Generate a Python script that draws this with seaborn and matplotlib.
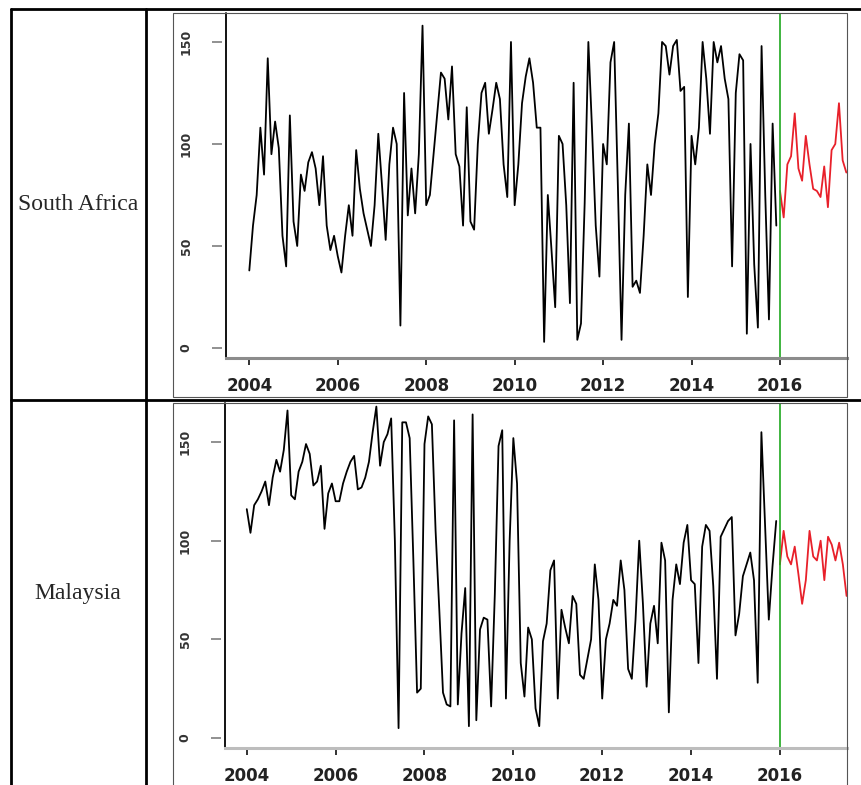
import matplotlib
matplotlib.use("Agg")
import matplotlib.pyplot as plt
from matplotlib.lines import Line2D
from matplotlib.patches import Rectangle
import pandas as pd
import seaborn as sns

# ---- data (monthly values) ----
# South Africa, black = observed Jan 2004 - Dec 2015, red = forecast from Jan 2016
sa_2004 = [38, 60, 75, 108, 85, 142, 95, 111, 98, 55, 40, 114]
sa_2005 = [62, 50, 85, 77, 91, 96, 88, 70, 94, 60, 48, 55]
sa_2006 = [45, 37, 55, 70, 55, 97, 78, 66, 58, 50, 70, 105]
sa_2007 = [80, 53, 90, 108, 100, 11, 125, 65, 88, 66, 95, 158]
sa_2008 = [70, 75, 95, 115, 135, 132, 112, 138, 95, 89, 60, 118]
sa_2009 = [62, 58, 100, 125, 130, 105, 117, 130, 122, 90, 74, 150]
sa_2010 = [70, 90, 120, 133, 142, 130, 108, 108, 3, 75, 48, 20]
sa_2011 = [104, 100, 70, 22, 130, 4, 12, 71, 150, 107, 60, 35]
sa_2012 = [100, 90, 140, 150, 80, 4, 75, 110, 30, 33, 27, 55]
sa_2013 = [90, 75, 100, 115, 150, 148, 134, 148, 151, 126, 128, 25]
sa_2014 = [104, 90, 108, 150, 132, 105, 150, 140, 148, 132, 122, 40]
sa_2015 = [125, 144, 141, 7, 100, 41, 10, 148, 75, 14, 110, 60]
sa_forecast = [77, 64, 90, 94, 115, 88, 82, 104, 90, 78, 77, 74, 89, 69, 97, 100, 120, 92, 86]

# Malaysia
my_2004 = [116, 104, 118, 121, 125, 130, 118, 132, 141, 135, 146, 166]
my_2005 = [123, 121, 135, 140, 149, 144, 128, 130, 138, 106, 124, 129]
my_2006 = [120, 120, 129, 135, 140, 143, 126, 127, 132, 140, 155, 168]
my_2007 = [138, 150, 154, 162, 100, 5, 160, 160, 152, 90, 23, 25]
my_2008 = [149, 163, 159, 105, 65, 23, 17, 16, 161, 17, 53, 76]
my_2009 = [6, 164, 9, 55, 61, 60, 16, 73, 148, 156, 20, 100]
my_2010 = [152, 129, 38, 21, 56, 50, 15, 6, 49, 58, 85, 90]
my_2011 = [20, 65, 56, 48, 72, 68, 32, 30, 40, 50, 88, 70]
my_2012 = [20, 50, 58, 70, 67, 90, 75, 35, 30, 60, 100, 68]
my_2013 = [26, 58, 67, 48, 99, 90, 13, 70, 88, 78, 99, 108]
my_2014 = [80, 78, 38, 97, 108, 105, 77, 30, 102, 106, 110, 112]
my_2015 = [52, 63, 82, 88, 94, 80, 28, 155, 107, 60, 87, 110]
my_forecast = [88, 105, 92, 88, 97, 83, 68, 80, 105, 92, 90, 100, 80, 102, 98, 90, 99, 88, 72]

countries = ["South Africa", "Malaysia"]
year_ticks = [2004, 2006, 2008, 2010, 2012, 2014, 2016]
value_ticks = [0, 50, 100, 150]
split_year = 2016

sa_obs = sa_2004 + sa_2005 + sa_2006 + sa_2007 + sa_2008 + sa_2009 + \
    sa_2010 + sa_2011 + sa_2012 + sa_2013 + sa_2014 + sa_2015
my_obs = my_2004 + my_2005 + my_2006 + my_2007 + my_2008 + my_2009 + \
    my_2010 + my_2011 + my_2012 + my_2013 + my_2014 + my_2015


def to_frame(values, start):
    dates = pd.date_range(start, periods=len(values), freq="MS")
    return pd.DataFrame({"t": dates.year + (dates.month - 1) / 12, "value": values})


W, H = 861, 785


def fx(x):
    return x / W


def fy(y):
    return 1 - y / H


sns.set_style("white")
plt.rcParams["font.family"] = ["DejaVu Sans"]

fig = plt.figure(figsize=(W / 100, H / 100), dpi=100)

# panel geometry in pixels: (left, top, right, bottom), xlim, ylim, bottom spine colour
panels = [
    (countries[0], sa_obs, sa_forecast, (226, 13, 847, 358), (2003.473, 2017.515), (-4.9, 164.2), "#8c8c8c", 204),
    (countries[1], my_obs, my_forecast, (225, 403, 847, 748), (2003.51, 2017.51), (-5.07, 169.8), "#bdbdbd", 594),
]

for name, obs, fc, (l, t, r, b), xlim, ylim, bcol, label_y in panels:
    ax = fig.add_axes([fx(l), fy(b), (r - l) / W, (b - t) / H])
    sns.lineplot(data=to_frame(obs, "2004-01-01"), x="t", y="value", ax=ax,
                 color="black", lw=1.3)
    sns.lineplot(data=to_frame(fc, "2016-01-01"), x="t", y="value", ax=ax,
                 color="#e8202a", lw=1.3)
    ax.axvline(split_year, color="#1fa81f", lw=1.2)

    ax.set_xlim(xlim)
    ax.set_ylim(ylim)
    ax.set_xlabel("")
    ax.set_ylabel("")

    ax.spines["top"].set_visible(False)
    ax.spines["right"].set_visible(False)
    ax.spines["left"].set_position(("outward", 3))
    ax.spines["left"].set_visible(False)
    ax.spines["bottom"].set_color(bcol)
    ax.spines["bottom"].set_linewidth(2.2)
    # plot box edge on the left
    ax.plot([0, 0], [0, 1], transform=ax.transAxes, color="black", lw=1.3, clip_on=False)

    ax.set_xticks(year_ticks)
    ax.set_xticklabels([str(y) for y in year_ticks], fontsize=12, fontweight="bold", color="#222222")
    ax.set_yticks(value_ticks)
    ax.set_yticklabels([str(v) for v in value_ticks], rotation=90, va="center",
                       fontsize=9, fontweight="bold", color="#333333")
    ax.tick_params(axis="x", direction="out", length=5, width=1.3, color="#222222", pad=9,
                   bottom=True)
    ax.tick_params(axis="y", direction="out", length=7, width=1.3, color="#888888", pad=14,
                   left=True)

    # image border around the plot
    fig.add_artist(Rectangle((fx(173), fy(b + 40 if t > 300 else 397)), (847 - 173) / W,
                             ((b + 40 if t > 300 else 397) - t) / H, transform=fig.transFigure,
                             fill=False, edgecolor="#555555", lw=0.8))

    fig.text(fx(78), fy(label_y), name, family="Liberation Serif", fontsize=17,
             ha="center", va="center")

# table rules
table_lines = [
    ((11, 861), (9, 9)),
    ((11, 11), (9, 785)),
    ((145.5, 145.5), (9, 785)),
    ((11, 861), (399.5, 399.5)),
]
for xs, ys in table_lines:
    fig.add_artist(Line2D([fx(xs[0]), fx(xs[1])], [fy(ys[0]), fy(ys[1])],
                          transform=fig.transFigure, color="black", lw=2))

plt.savefig("out.png", dpi=100)
